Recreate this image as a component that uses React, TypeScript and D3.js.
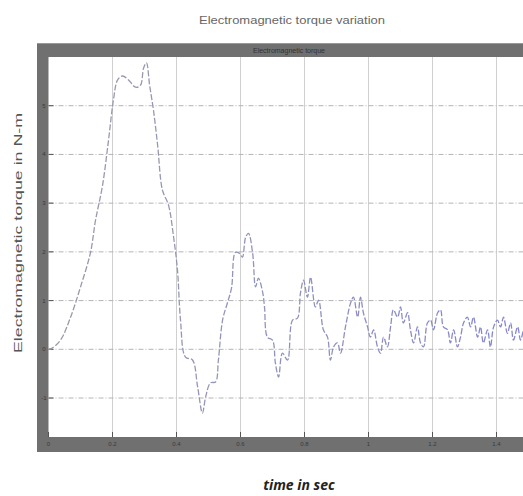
import React from 'react';
import * as d3 from 'd3';

// time (s) and torque (N-m)
const timeSec = [
  0, 0.01, 0.0375, 0.069, 0.1, 0.131, 0.147, 0.169, 0.1875, 0.203, 0.216, 0.231, 0.25, 0.272, 0.2875,
  0.297, 0.306, 0.316, 0.328, 0.341, 0.356, 0.375, 0.391, 0.403, 0.4125, 0.428, 0.45, 0.466, 0.481,
  0.491, 0.506, 0.522, 0.531, 0.544, 0.559, 0.572, 0.584, 0.597, 0.606, 0.616, 0.625, 0.638, 0.647,
  0.656, 0.669, 0.675, 0.684, 0.7, 0.709, 0.719, 0.731, 0.747, 0.7625, 0.778, 0.7875, 0.797, 0.809,
  0.819, 0.834, 0.844, 0.859, 0.872, 0.881, 0.891, 0.903, 0.9125, 0.928, 0.944, 0.953, 0.966, 0.975,
  0.984, 0.997, 1.006, 1.016, 1.028, 1.0375, 1.047, 1.059, 1.069, 1.078, 1.091, 1.1, 1.109, 1.122,
  1.131, 1.141, 1.153, 1.1625, 1.172, 1.184, 1.194, 1.203, 1.216, 1.225, 1.234, 1.247, 1.256, 1.266,
  1.278, 1.2875, 1.297, 1.309, 1.319, 1.328, 1.341, 1.35, 1.359, 1.372, 1.381, 1.391, 1.403, 1.4125,
  1.422, 1.434, 1.444, 1.453, 1.466, 1.475, 1.484,
];
const torque = [
  0, 0.02, 0.19, 0.66, 1.28, 1.98, 2.65, 3.37, 4.29, 5.12, 5.53, 5.61, 5.53, 5.38, 5.42,
  5.77, 5.88, 5.42, 4.91, 4.19, 3.27, 2.96, 2.3, 1.63, 0.6, -0.16, -0.22, -0.77, -1.31,
  -0.98, -0.69, -0.67, -0.22, 0.6, 0.95, 1.26, 1.99, 1.97, 1.89, 2.3, 2.38, 1.97, 1.28,
  1.46, 1.18, 0.87, 0.25, 0.19, -0.28, -0.57, -0.08, -0.22, 0.6, 0.64, 1.16, 1.42, 1.07,
  1.48, 0.87, 1.01, 0.4, 0.25, -0.22, 0.05, 0.13, -0.08, 0.46, 0.95, 1.07, 0.66, 1.07,
  0.75, 0.46, 0.25, 0.4, 0.05, -0.08, 0.25, 0.05, 0.46, 0.81, 0.66, 0.87, 0.54, 0.75,
  0.4, 0.13, 0.46, 0.13, 0.05, 0.54, 0.6, 0.4, 0.75, 0.81, 0.46, 0.4, 0.13, 0.4,
  0.05, 0.25, 0.54, 0.66, 0.46, 0.66, 0.25, 0.46, 0.13, 0.4, 0.05, 0.46, 0.6, 0.46,
  0.66, 0.33, 0.54, 0.19, 0.46, 0.19, 0.4,
];
const xTicks = [0, 0.2, 0.4, 0.6, 0.8, 1, 1.2, 1.4];
const yTicks = [-1, 0, 1, 2, 3, 4, 5];

const W = 523;
const H = 496;
// plot area inside the grey scope frame
const pl = 48.5, pt = 57, pr = 532, pb = 437;

export default function App() {
  const x = d3.scaleLinear().domain([0, 1.5]).range([pl, pl + 480]);
  const y = d3.scaleLinear().domain([-1.8, 6]).range([pb, pt]);
  const pts = timeSec.map((t, i) => [t, torque[i]] as [number, number]);
  const line = d3.line<[number, number]>()
    .x(d => x(d[0]))
    .y(d => y(d[1]))
    .curve(d3.curveCatmullRom.alpha(0.5));

  return (
    <div style={{ position: 'absolute', left: 0, top: 0 }}>
      <svg width={W} height={H} style={{ display: 'block', background: '#fff' }}>
        <text x={292} y={24} textAnchor="middle" fontFamily="Liberation Sans, Arial" fontSize={11}
          fill="#666" textLength={186} lengthAdjust="spacingAndGlyphs">Electromagnetic torque variation</text>

        {/* scope frame */}
        <rect x={37} y={43} width={W} height={409} fill="#707070" />
        <line x1={37} x2={W} y1={43.5} y2={43.5} stroke="#999" />
        <text x={289} y={52.5} textAnchor="middle" fontFamily="Liberation Sans, Arial" fontSize={7}
          fill="#333">Electromagnetic torque</text>

        <defs>
          <clipPath id="plot">
            <rect x={pl} y={pt} width={pr - pl} height={pb - pt} />
          </clipPath>
          <linearGradient id="trace" gradientUnits="userSpaceOnUse" x1={pl} x2={W} y1={0} y2={0}>
            <stop offset="0" stopColor="#9a9aa8" />
            <stop offset="0.35" stopColor="#9496b8" />
            <stop offset="1" stopColor="#8486d0" />
          </linearGradient>
        </defs>
        <rect x={pl} y={pt} width={pr - pl} height={pb - pt} fill="#fff" />

        {/* grid */}
        {xTicks.slice(1).map(t => (
          <line key={'vx' + t} x1={x(t)} x2={x(t)} y1={pt} y2={pb} stroke="#d0d0d0" strokeWidth={1} />
        ))}
        {yTicks.map(v => (
          <line key={'hy' + v} x1={pl} x2={pr} y1={y(v)} y2={y(v)} stroke="#b4b4b4" strokeWidth={1}
            strokeDasharray="5,2,1,2" />
        ))}

        {/* ticks */}
        {yTicks.map(v => (
          <g key={'ty' + v}>
            <line x1={pl} x2={pl + 5} y1={y(v)} y2={y(v)} stroke="#555" />
            <text x={44} y={y(v) + 2} textAnchor="middle" fontFamily="Liberation Sans, Arial" fontSize={6}
              fill="#3a3a3a">{v}</text>
          </g>
        ))}
        {xTicks.map(t => (
          <g key={'tx' + t}>
            <line x1={x(t)} x2={x(t)} y1={pb} y2={pb - 5} stroke="#555" />
            <text x={x(t)} y={446} textAnchor="middle" fontFamily="Liberation Sans, Arial" fontSize={6}
              fill="#3a3a3a">{t}</text>
          </g>
        ))}

        <path d={line(pts) ?? ''} clipPath="url(#plot)" fill="none" stroke="url(#trace)" strokeWidth={1.3}
          strokeDasharray="6,2" />

        <text transform={`translate(22,233) rotate(-90)`} textAnchor="middle" fontFamily="Liberation Sans, Arial"
          fontSize={11} fill="#555" textLength={240} lengthAdjust="spacingAndGlyphs">Electromagnetic torque in N-m</text>

        <text x={299} y={490} textAnchor="middle" fontFamily="Open Sans, Lato, sans-serif" fontSize={14}
          fontWeight="bold" fontStyle="italic" fill="#222">time in sec</text>
      </svg>
    </div>
  );
}
